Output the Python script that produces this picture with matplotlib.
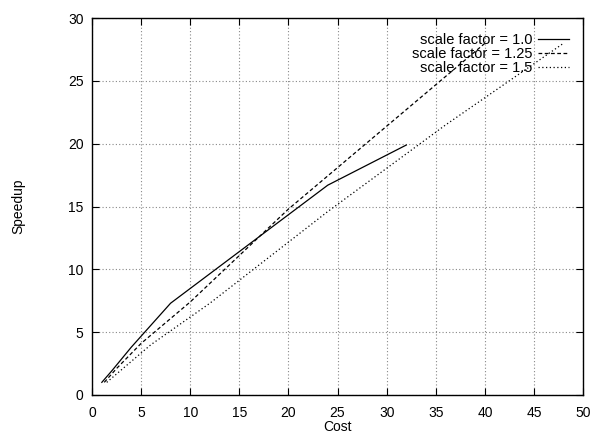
import matplotlib
matplotlib.use("Agg")
import matplotlib.pyplot as plt

plt.rcParams['font.family'] = ['Liberation Sans', 'DejaVu Sans']

# cost = scale factor * processors
cost_10 = [1, 2, 4, 8, 16, 24, 32]
speedup_10 = [1.0, 1.9, 3.8, 7.3, 12.0, 16.7, 19.9]

cost_125 = [1.25, 2.5, 5, 10, 20, 30, 40]
speedup_125 = [1.0, 2.1, 4.1, 7.4, 14.8, 21.4, 28.0]

cost_15 = [1.5, 3, 6, 12, 24, 36, 48]
speedup_15 = [1.0, 2.0, 4.0, 7.3, 14.6, 21.5, 28.0]

labels = ['scale factor = 1.0', 'scale factor = 1.25', 'scale factor = 1.5']

fig = plt.figure(figsize=(5.92, 4.33), dpi=100)
ax = fig.add_axes([0.1554, 0.088, 0.985 - 0.1554, 0.958 - 0.088])

ax.plot(cost_10, speedup_10, color='black', lw=0.9, ls='-', label=labels[0])
ax.plot(cost_125, speedup_125, color='black', lw=0.9, ls=(0, (3, 2)), label=labels[1])
ax.plot(cost_15, speedup_15, color='black', lw=0.9, ls=(0, (1, 2)), label=labels[2])

ax.set_xlim(0, 50)
ax.set_ylim(0, 30)
ax.set_xticks(range(0, 51, 5))
ax.set_yticks(range(0, 31, 5))
ax.grid(True, color='#888888', ls=(0, (1, 2)), lw=0.8)
ax.tick_params(direction='in', length=5, width=0.8, top=True, right=True,
               labelsize=10)
ax.tick_params(axis='x', pad=8)
ax.tick_params(axis='y', pad=6)
for s in ax.spines.values():
    s.set_linewidth(1.0)

ax.set_xlabel('Cost', fontsize=10, labelpad=0)
ax.set_ylabel('Speedup', fontsize=10, labelpad=31)

leg = ax.legend(loc='upper right', frameon=False, markerfirst=False,
                fontsize=10.5, handlelength=2.1, handletextpad=0.35,
                labelspacing=0.0, borderaxespad=0.6)
for t in leg.get_texts():
    t.set_ha('right')
leg._legend_box.align = 'right'

fig.savefig('out.png', dpi=100)
